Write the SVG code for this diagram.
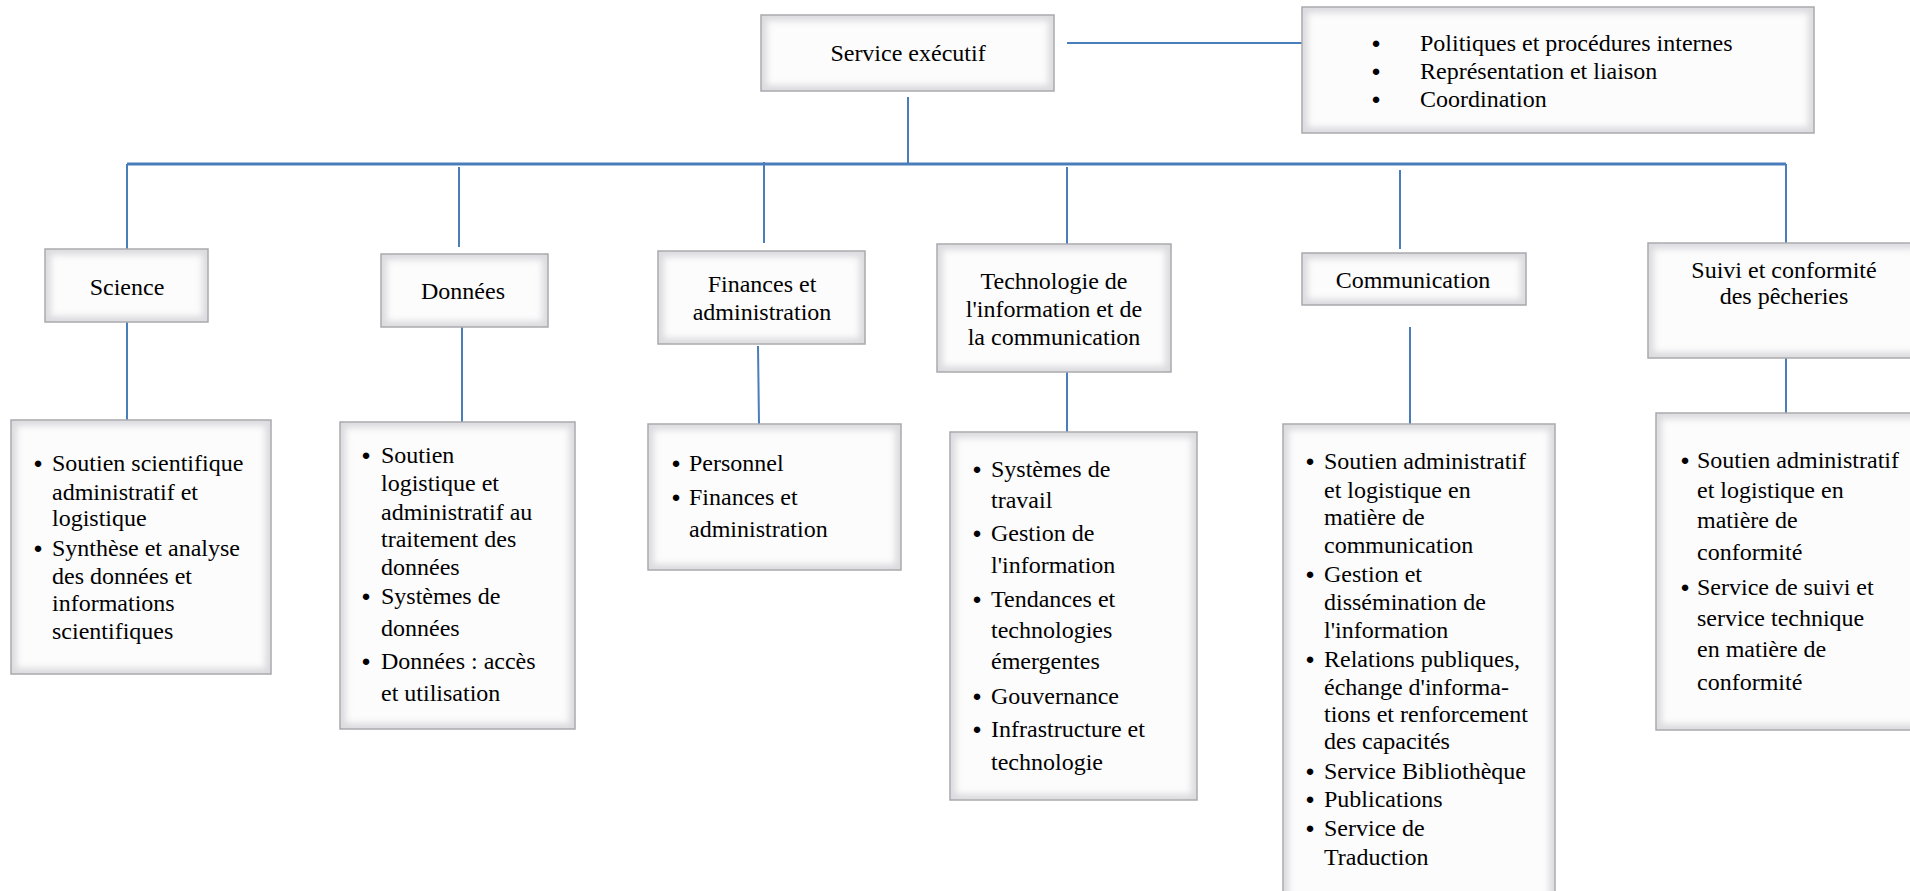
<svg xmlns="http://www.w3.org/2000/svg" width="1910" height="891" viewBox="0 0 1910 891">
<defs>
<filter id="soft" x="-10%" y="-10%" width="120%" height="120%">
<feGaussianBlur stdDeviation="3"/>
</filter>
</defs>
<style>
.bo{fill:#dcdce0;stroke:#a9a9ad;stroke-width:1.5}
.bi{fill:#fcfcfd;filter:url(#soft)}
.t{font-family:"Liberation Serif","Times New Roman",serif;font-size:24px;fill:#000}
.c{text-anchor:middle}
.b{font-family:"Liberation Sans","DejaVu Sans",sans-serif;text-anchor:middle;font-size:15px;fill:#000}
.ln{stroke:#4a7ebb;stroke-width:2;fill:none}
.bus{stroke:#4a7ebb;stroke-width:3;fill:none}
</style>
<rect width="1910" height="891" fill="#ffffff"/>

<g id="connectors">
<line class="ln" x1="1067" y1="43" x2="1302" y2="43"/>
<line class="ln" x1="908" y1="97" x2="908" y2="164"/>
<line class="bus" x1="127" y1="164" x2="1786" y2="164"/>
<line class="ln" x1="127" y1="164" x2="127" y2="249"/>
<line class="ln" x1="459" y1="167" x2="459" y2="247"/>
<line class="ln" x1="764" y1="162" x2="764" y2="243"/>
<line class="ln" x1="1067" y1="167" x2="1067" y2="247"/>
<line class="ln" x1="1400" y1="170" x2="1400" y2="249"/>
<line class="ln" x1="1786" y1="164" x2="1786" y2="243"/>
<line class="ln" x1="127" y1="322" x2="127" y2="420"/>
<line class="ln" x1="462" y1="327" x2="462" y2="422"/>
<line class="ln" x1="758" y1="346" x2="759" y2="424"/>
<line class="ln" x1="1067" y1="372" x2="1067" y2="432"/>
<line class="ln" x1="1410" y1="327" x2="1410" y2="424"/>
<line class="ln" x1="1786" y1="358" x2="1786" y2="413"/>
</g>

<g id="service-executif">
<rect class="bo" x="761" y="15" width="293" height="76"/>
<rect class="bi" x="767" y="21" width="281" height="64"/>
<text class="t c" x="908" y="61">Service exécutif</text>
</g>

<g id="executif-fonctions">
<rect class="bo" x="1302" y="7" width="512" height="126"/>
<rect class="bi" x="1308" y="13" width="500" height="114"/>
<text class="b" x="1376" y="48">●</text>
<text class="t" x="1420" y="51">Politiques et procédures internes</text>
<text class="b" x="1376" y="76">●</text>
<text class="t" x="1420" y="79">Représentation et liaison</text>
<text class="b" x="1376" y="104">●</text>
<text class="t" x="1420" y="107">Coordination</text>
</g>

<g id="science">
<rect class="bo" x="45" y="249" width="163" height="73"/>
<rect class="bi" x="51" y="255" width="151" height="61"/>
<text class="t c" x="127" y="295">Science</text>
</g>

<g id="donnees">
<rect class="bo" x="381" y="254" width="167" height="73"/>
<rect class="bi" x="387" y="260" width="155" height="61"/>
<text class="t c" x="463" y="299">Données</text>
</g>

<g id="finances">
<rect class="bo" x="658" y="251" width="207" height="93"/>
<rect class="bi" x="664" y="257" width="195" height="81"/>
<text class="t c" x="762" y="292">Finances et</text>
<text class="t c" x="762" y="320">administration</text>
</g>

<g id="tic">
<rect class="bo" x="937" y="244" width="234" height="128"/>
<rect class="bi" x="943" y="250" width="222" height="116"/>
<text class="t c" x="1054" y="289">Technologie de</text>
<text class="t c" x="1054" y="317">l'information et de</text>
<text class="t c" x="1054" y="345">la communication</text>
</g>

<g id="communication">
<rect class="bo" x="1302" y="253" width="224" height="52"/>
<rect class="bi" x="1308" y="259" width="212" height="40"/>
<text class="t c" x="1413" y="288">Communication</text>
</g>

<g id="suivi">
<rect class="bo" x="1648" y="243" width="275" height="115"/>
<rect class="bi" x="1654" y="249" width="263" height="103"/>
<text class="t c" x="1784" y="278">Suivi et conformité</text>
<text class="t c" x="1784" y="304">des pêcheries</text>
</g>

<g id="science-details">
<rect class="bo" x="11" y="420" width="260" height="254"/>
<rect class="bi" x="17" y="426" width="248" height="242"/>
<text class="b" x="38" y="468">●</text>
<text class="t" x="52" y="471">Soutien scientifique</text>
<text class="t" x="52" y="500">administratif et</text>
<text class="t" x="52" y="526">logistique</text>
<text class="b" x="38" y="553">●</text>
<text class="t" x="52" y="556">Synthèse et analyse</text>
<text class="t" x="52" y="584">des données et</text>
<text class="t" x="52" y="611">informations</text>
<text class="t" x="52" y="639">scientifiques</text>
</g>

<g id="donnees-details">
<rect class="bo" x="340" y="422" width="235" height="307"/>
<rect class="bi" x="346" y="428" width="223" height="295"/>
<text class="b" x="366" y="460">●</text>
<text class="t" x="381" y="463">Soutien</text>
<text class="t" x="381" y="491">logistique et</text>
<text class="t" x="381" y="520">administratif au</text>
<text class="t" x="381" y="547">traitement des</text>
<text class="t" x="381" y="575">données</text>
<text class="b" x="366" y="601">●</text>
<text class="t" x="381" y="604">Systèmes de</text>
<text class="t" x="381" y="636">données</text>
<text class="b" x="366" y="666">●</text>
<text class="t" x="381" y="669">Données : accès</text>
<text class="t" x="381" y="701">et utilisation</text>
</g>

<g id="finances-details">
<rect class="bo" x="648" y="424" width="253" height="146"/>
<rect class="bi" x="654" y="430" width="241" height="134"/>
<text class="b" x="676" y="468">●</text>
<text class="t" x="689" y="471">Personnel</text>
<text class="b" x="676" y="502">●</text>
<text class="t" x="689" y="505">Finances et</text>
<text class="t" x="689" y="537">administration</text>
</g>

<g id="tic-details">
<rect class="bo" x="950" y="432" width="247" height="368"/>
<rect class="bi" x="956" y="438" width="235" height="356"/>
<text class="b" x="977" y="474">●</text>
<text class="t" x="991" y="477">Systèmes de</text>
<text class="t" x="991" y="508">travail</text>
<text class="b" x="977" y="538">●</text>
<text class="t" x="991" y="541">Gestion de</text>
<text class="t" x="991" y="573">l'information</text>
<text class="b" x="977" y="604">●</text>
<text class="t" x="991" y="607">Tendances et</text>
<text class="t" x="991" y="638">technologies</text>
<text class="t" x="991" y="669">émergentes</text>
<text class="b" x="977" y="701">●</text>
<text class="t" x="991" y="704">Gouvernance</text>
<text class="b" x="977" y="734">●</text>
<text class="t" x="991" y="737">Infrastructure et</text>
<text class="t" x="991" y="770">technologie</text>
</g>

<g id="communication-details">
<rect class="bo" x="1283" y="424" width="272" height="480"/>
<rect class="bi" x="1289" y="430" width="260" height="470"/>
<text class="b" x="1310" y="466">●</text>
<text class="t" x="1324" y="469">Soutien administratif</text>
<text class="t" x="1324" y="498">et logistique en</text>
<text class="t" x="1324" y="525">matière de</text>
<text class="t" x="1324" y="553">communication</text>
<text class="b" x="1310" y="579">●</text>
<text class="t" x="1324" y="582">Gestion et</text>
<text class="t" x="1324" y="610">dissémination de</text>
<text class="t" x="1324" y="638">l'information</text>
<text class="b" x="1310" y="664">●</text>
<text class="t" x="1324" y="667">Relations publiques,</text>
<text class="t" x="1324" y="695">échange d'informa-</text>
<text class="t" x="1324" y="722">tions et renforcement</text>
<text class="t" x="1324" y="749">des capacités</text>
<text class="b" x="1310" y="776">●</text>
<text class="t" x="1324" y="779">Service Bibliothèque</text>
<text class="b" x="1310" y="804">●</text>
<text class="t" x="1324" y="807">Publications</text>
<text class="b" x="1310" y="833">●</text>
<text class="t" x="1324" y="836">Service de</text>
<text class="t" x="1324" y="865">Traduction</text>
</g>

<g id="suivi-details">
<rect class="bo" x="1656" y="413" width="270" height="317"/>
<rect class="bi" x="1662" y="419" width="258" height="305"/>
<text class="b" x="1685" y="465">●</text>
<text class="t" x="1697" y="468">Soutien administratif</text>
<text class="t" x="1697" y="498">et logistique en</text>
<text class="t" x="1697" y="528">matière de</text>
<text class="t" x="1697" y="560">conformité</text>
<text class="b" x="1685" y="592">●</text>
<text class="t" x="1697" y="595">Service de suivi et</text>
<text class="t" x="1697" y="626">service technique</text>
<text class="t" x="1697" y="657">en matière de</text>
<text class="t" x="1697" y="690">conformité</text>
</g>
</svg>
